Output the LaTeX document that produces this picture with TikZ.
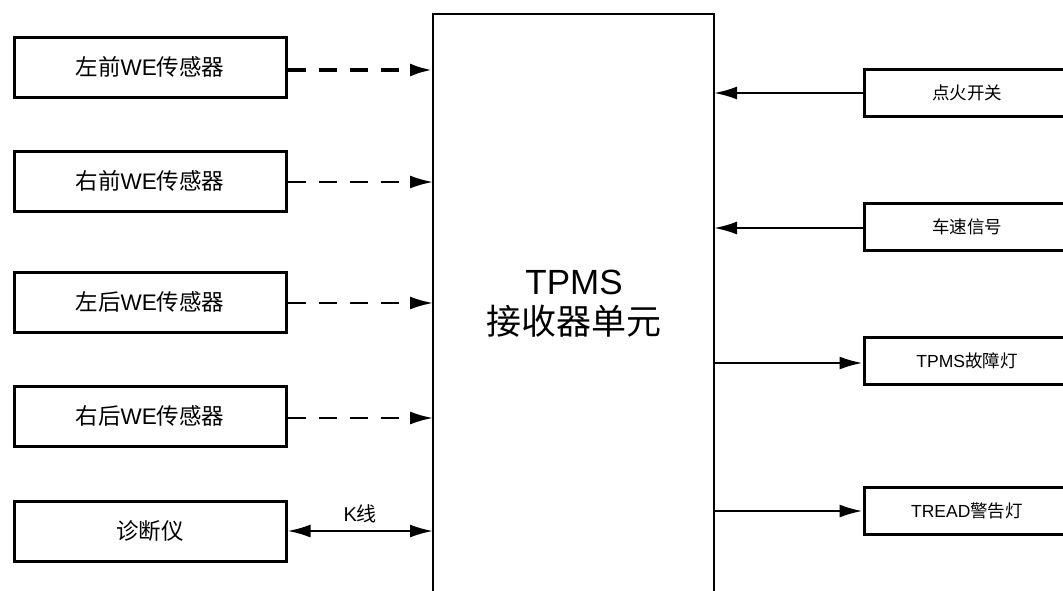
\documentclass[tikz,border=0pt]{standalone}
\usepackage{fontspec}
\setmainfont{Liberation Sans}
\newfontfamily\cjk{Noto Sans CJK SC}
\usetikzlibrary{arrows.meta}
\begin{document}
\begin{tikzpicture}[x=1pt,y=-1pt,
  lbox/.style={draw,line width=3pt,minimum width=272pt,minimum height=60pt,inner sep=0pt,font=\fontsize{22.5}{26}\selectfont},
  rbox/.style={draw,line width=3pt,minimum width=206pt,minimum height=47pt,inner sep=0pt,font=\fontsize{17.5}{20}\selectfont},
  tip/.style={-{Latex[length=23pt,width=13pt]}},
  arr/.style={line width=2.3pt,tip},
  darr/.style={line width=2.3pt,dash pattern=on 18pt off 13pt,tip},
]
\useasboundingbox (0,0) rectangle (1063,590);
\clip (0,0) rectangle (1063,590);
\fill[white] (0,0) rectangle (1063,590);
% center unit
\coordinate (cbl) at (433,600);
\coordinate (ctl) at (433,14);
\coordinate (ctr) at (714,14);
\coordinate (cbr) at (714,600);
\draw[line width=2.5pt] (cbl) -- (ctl) -- (ctr) -- (cbr);
\node[font=\fontsize{35}{40}\selectfont,align=center] (ecu) at (574,304) {TPMS\\\cjk 接收器单元};
% left boxes
\node[lbox] (s1) at (150,67) {\cjk 左前\rmfamily WE\cjk 传感器};
\node[lbox] (s2) at (150,181) {\cjk 右前\rmfamily WE\cjk 传感器};
\node[lbox] (s3) at (150,302) {\cjk 左后\rmfamily WE\cjk 传感器};
\node[lbox] (s4) at (150,416) {\cjk 右后\rmfamily WE\cjk 传感器};
\node[lbox] (diag) at (150,531) {\cjk 诊断仪};
\coordinate (e1) at (433,70);
\coordinate (e2) at (433,182);
\coordinate (e3) at (433,303);
\coordinate (e4) at (433,418);
\coordinate (e5) at (433,531);
\draw[darr,line width=4pt] (s1.east |- e1) -- (e1);
\draw[darr] (s2.east |- e2) -- (e2);
\draw[darr] (s3.east |- e3) -- (e3);
\draw[darr] (s4.east |- e4) -- (e4);
\draw[line width=2.3pt,{Latex[length=23pt,width=13pt]}-{Latex[length=23pt,width=13pt]}] (diag.east |- e5) -- node[above=3pt,font=\fontsize{20}{23}\selectfont] (kl) {K\cjk 线} (e5);
% right boxes
\node[rbox] (ign) at (967,92.5) {\cjk 点火开关};
\node[rbox] (spd) at (967,227) {\cjk 车速信号};
\node[rbox] (tl) at (967,361) {TPMS\cjk 故障灯};
\node[rbox] (trd) at (967,511) {TREAD\cjk 警告灯};
\coordinate (r1) at (714,93);
\coordinate (r2) at (714,228);
\coordinate (r3) at (714,363);
\coordinate (r4) at (714,511);
\draw[arr] (ign.west |- r1) -- (r1);
\draw[arr] (spd.west |- r2) -- (r2);
\draw[arr] (r3) -- (tl.west |- r3);
\draw[arr] (r4) -- (trd.west |- r4);
\end{tikzpicture}
\end{document}
